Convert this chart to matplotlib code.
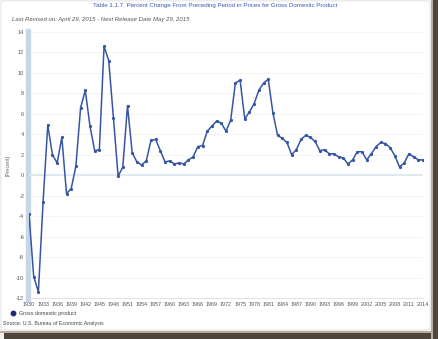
import matplotlib.pyplot as plt
from matplotlib.patches import Rectangle, FancyBboxPatch

plt.rcParams['font.family'] = ['Liberation Sans', 'DejaVu Sans']
plt.rcParams['axes.unicode_minus'] = False

# Percent change in GDP price index, annual
years = list(range(1930, 2015))
pct_change = [
    -3.8, -9.9, -11.4, -2.6, 4.9, 2.0, 1.2, 3.7, -1.8, -1.3,
    0.9, 6.6, 8.3, 4.8, 2.4, 2.5, 12.6, 11.2, 5.6, -0.1,
    0.8, 6.8, 2.2, 1.3, 1.0, 1.4, 3.4, 3.5, 2.4, 1.3,
    1.4, 1.1, 1.2, 1.1, 1.5, 1.8, 2.8, 2.9, 4.3, 4.8,
    5.3, 5.1, 4.3, 5.4, 9.0, 9.3, 5.5, 6.2, 7.0, 8.3,
    9.0, 9.4, 6.1, 3.9, 3.6, 3.2, 2.0, 2.5, 3.5, 3.9,
    3.7, 3.3, 2.4, 2.5, 2.1, 2.1, 1.8, 1.7, 1.1, 1.5,
    2.3, 2.3, 1.5, 2.1, 2.8, 3.2, 3.1, 2.7, 1.9, 0.8,
    1.2, 2.1, 1.8, 1.5, 1.5,
]
x_ticks = list(range(1930, 2015, 3))
y_ticks = list(range(-12, 15, 2))

W, H = 439, 339
fig = plt.figure(figsize=(W / 100, H / 100), dpi=100)
fig.patch.set_facecolor('#f4f2ee')

# panel shadow and white card
fig.patches.append(Rectangle((433 / W, 0), 6 / W, 1, transform=fig.transFigure,
                             facecolor='#4e463c', edgecolor='none', zorder=0))
fig.patches.append(Rectangle((4 / W, 0), 435 / W, 6 / H, transform=fig.transFigure,
                             facecolor='#4e463c', edgecolor='none', zorder=0))
fig.patches.append(Rectangle((431 / W, 0), 2 / W, 1, transform=fig.transFigure,
                             facecolor='#b8ad9c', edgecolor='none', zorder=0))
fig.patches.append(Rectangle((0, 6 / H), 433 / W, 2 / H, transform=fig.transFigure,
                             facecolor='#b8ad9c', edgecolor='none', zorder=0))
fig.patches.append(FancyBboxPatch((1 / W, 9 / H), 429 / W, 329 / H,
                                  boxstyle='round,pad=0,rounding_size=0.01',
                                  transform=fig.transFigure, facecolor='white',
                                  edgecolor='#e6e6e6', linewidth=0.6, zorder=0.5))

ax = fig.add_axes([29 / W, 1 - 298 / H, 394 / W, 266 / H])
ax.set_zorder(2)
ax.set_facecolor('none')
ax.plot(years, pct_change, color='#3656a4', linewidth=1.1,
        marker='o', markersize=1.3, zorder=3)

ax.set_xlim(1930, 2014)
ax.set_ylim(-12, 14)
ax.set_xticks(x_ticks)
ax.set_yticks(y_ticks)
ax.tick_params(axis='x', labelsize=3.9, colors='#555555', length=0, pad=3)
ax.tick_params(axis='y', labelsize=4, labelcolor='#555555', length=2,
               color='#cccccc', pad=1.5)
ax.grid(axis='y', color='#f2f2f2', linewidth=0.6)
ax.axhline(0, color='#dde6ef', linewidth=1.2, zorder=2)
for side in ['top', 'right', 'left']:
    ax.spines[side].set_visible(False)
ax.spines['bottom'].set_color('#dde6ef')

# light blue band along the y axis
ax.axvspan(1929.4, 1930.2, ymin=-0.01, ymax=1.01, color='#c6d7e8', zorder=1,
           clip_on=False)

ax.set_ylabel('[Percent]', fontsize=3.8, color='#666666', labelpad=4)

fig.text(215 / W, 1 - 6 / H, 'Table 1.1.7. Percent Change From Preceding Period in Prices for Gross Domestic Product',
         ha='center', va='center', fontsize=4.4, color='#3a5aa8')
fig.text(12 / W, 1 - 19 / H, 'Last Revised on: April 29, 2015 - Next Release Date May 29, 2015',
         ha='left', va='center', fontsize=4.35, color='#555555', style='italic')

fig.lines.append(plt.Line2D([13 / W], [1 - 313 / H], transform=fig.transFigure,
                            marker='o', markersize=3.2, color='#1a2b80', linestyle='none'))
fig.text(19 / W, 1 - 313 / H, 'Gross domestic product', ha='left', va='center',
         fontsize=3.9, color='#444444')
fig.text(3 / W, 1 - 324 / H, 'Source: U.S. Bureau of Economic Analysis', ha='left', va='center',
         fontsize=3.8, color='#444444')

fig.savefig('out.png', dpi=100)
